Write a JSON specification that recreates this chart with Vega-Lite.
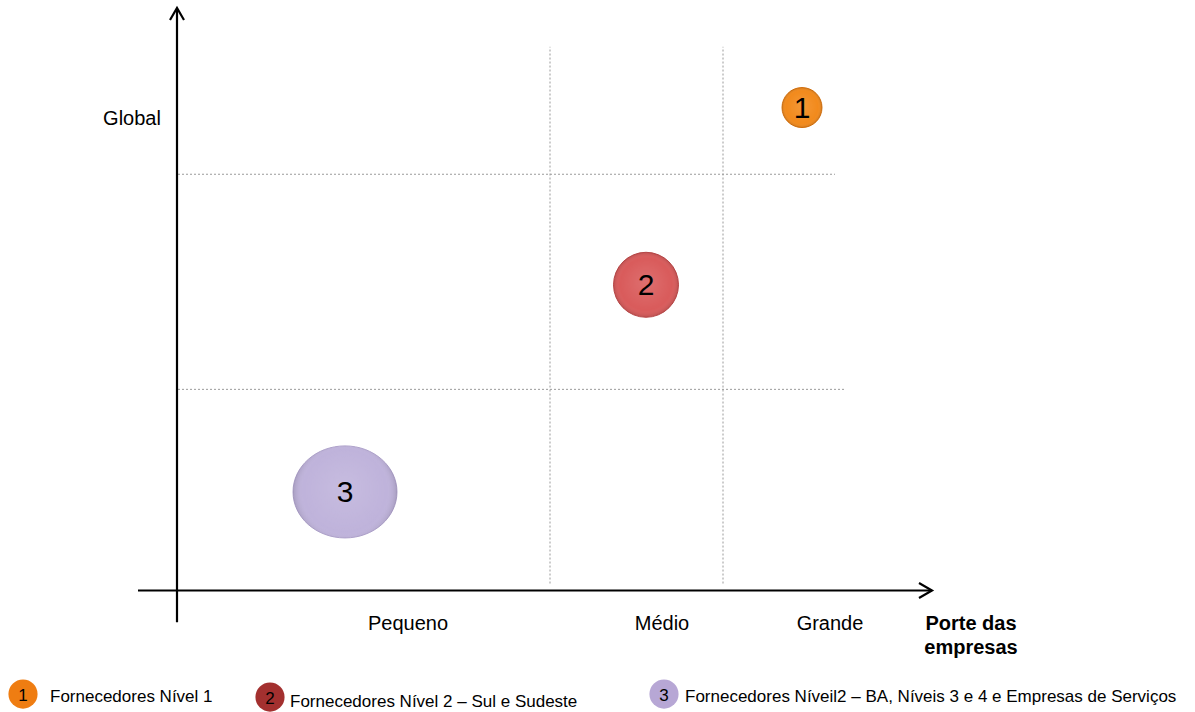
{
  "$schema": "https://vega.github.io/schema/vega-lite/v6.json",
  "width": 1195,
  "height": 712,
  "autosize": {"type": "fit", "contains": "padding"},
  "padding": 0,
  "background": "white",
  "config": {"view": {"stroke": null}, "font": "Liberation Sans"},
  "datasets": {
    "grid": [
      {"x": 37.3, "y": 0.7, "x2": 37.3, "y2": 54.6},
      {"x": 54.6, "y": 0.7, "x2": 54.6, "y2": 54.6},
      {"x": 0.1, "y": 41.8, "x2": 65.8, "y2": 41.8},
      {"x": 0.1, "y": 20.2, "x2": 66.8, "y2": 20.2}
    ],
    "axes": [
      {"x": 0, "y": -3.2, "x2": 0, "y2": 58.4},
      {"x": -3.9, "y": 0, "x2": 75.5, "y2": 0}
    ],
    "arrows": [
      {"x": 0, "y": 58.5, "dir": "up"},
      {"x": 75.5, "y": 0, "dir": "right"}
    ],
    "bubbles": [
      {"id": "1", "x": 62.5, "y": 48.5},
      {"id": "2", "x": 46.9, "y": 30.7},
      {"id": "3", "x": 16.8, "y": 9.9}
    ],
    "labels": [
      {"label": "Global", "x": -4.5, "y": 47.7},
      {"label": "Pequeno", "x": 23.1, "y": -3.1},
      {"label": "Médio", "x": 48.5, "y": -3.1},
      {"label": "Grande", "x": 65.3, "y": -3.1}
    ],
    "boldlabels": [
      {"label": "Porte das", "x": 79.4, "y": -3.0},
      {"label": "empresas", "x": 79.4, "y": -5.4}
    ],
    "legend": [
      {"id": "1", "x": -15.4, "y": -10.4, "tx": -12.7, "ty": -10.4, "label": "Fornecedores Nível 1"},
      {"id": "2", "x": 9.3, "y": -10.7, "tx": 11.3, "ty": -10.9, "label": "Fornecedores Nível 2 – Sul e Sudeste"},
      {"id": "3", "x": 48.7, "y": -10.4, "tx": 50.8, "ty": -10.4, "label": "Fornecedores Níveil2 – BA, Níveis 3 e 4 e Empresas de Serviços"}
    ]
  },
  "encoding": {
    "x": {"field": "x", "type": "quantitative", "scale": {"domain": [-17.7, 101.8], "nice": false, "zero": false}, "axis": null},
    "y": {"field": "y", "type": "quantitative", "scale": {"domain": [-11.9, 59.3], "nice": false, "zero": false}, "axis": null}
  },
  "layer": [
    {
      "data": {"name": "grid"},
      "mark": {"type": "rule", "color": "#9a9a9a", "strokeWidth": 1, "strokeDash": [2, 2]},
      "encoding": {"x2": {"field": "x2"}, "y2": {"field": "y2"}}
    },
    {
      "data": {"name": "axes"},
      "mark": {"type": "rule", "color": "#000000", "strokeWidth": 2.2},
      "encoding": {"x2": {"field": "x2"}, "y2": {"field": "y2"}}
    },
    {
      "data": {"name": "arrows"},
      "mark": {"type": "point", "filled": false, "stroke": "#000000", "strokeWidth": 2.2, "size": 400, "opacity": 1},
      "encoding": {
        "shape": {"field": "dir", "type": "nominal", "legend": null,
          "scale": {"domain": ["up", "right"], "range": ["M-0.7,1.2L0,0L0.7,1.2", "M-1.3,-0.75L0,0L-1.3,0.75"]}}
      }
    },
    {
      "data": {"name": "bubbles"},
      "mark": {"type": "point", "filled": true, "opacity": 1, "strokeWidth": 1},
      "encoding": {
        "color": {"field": "id", "type": "nominal", "legend": null,
          "scale": {"domain": ["1", "2", "3"], "range": ["#F28A1C", "#D95B5B", "#BFB3DB"]}},
        "stroke": {"field": "id", "type": "nominal", "legend": null,
          "scale": {"domain": ["1", "2", "3"], "range": ["#D8720E", "#BF4A4A", "#AFA2CC"]}},
        "size": {"field": "id", "type": "nominal", "legend": null,
          "scale": {"type": "ordinal", "domain": ["1", "2", "3"], "range": [1600, 4225, 10816]}},
        "shape": {"field": "id", "type": "nominal", "legend": null,
          "scale": {"domain": ["1", "2", "3"], "range": ["circle", "circle", "M-1,0A1,0.885,0,1,1,1,0A1,0.885,0,1,1,-1,0Z"]}}
      }
    },
    {
      "data": {"name": "bubbles"},
      "mark": {"type": "point", "filled": true, "opacity": 1,
        "fill": {"gradient": "radial", "x1": 0.5, "y1": 0.45, "r1": 0, "x2": 0.5, "y2": 0.5, "r2": 0.5,
          "stops": [
            {"offset": 0, "color": "rgba(255,255,255,0.12)"},
            {"offset": 0.8, "color": "rgba(255,255,255,0)"},
            {"offset": 1, "color": "rgba(0,0,0,0.12)"}
          ]}},
      "encoding": {
        "size": {"field": "id", "type": "nominal", "legend": null,
          "scale": {"type": "ordinal", "domain": ["1", "2", "3"], "range": [1600, 4225, 10816]}},
        "shape": {"field": "id", "type": "nominal", "legend": null,
          "scale": {"domain": ["1", "2", "3"], "range": ["circle", "circle", "M-1,0A1,0.885,0,1,1,1,0A1,0.885,0,1,1,-1,0Z"]}}
      }
    },
    {
      "data": {"name": "bubbles"},
      "mark": {"type": "text", "fontSize": 30, "color": "#000000", "baseline": "middle", "align": "center", "dy": 1},
      "encoding": {"text": {"field": "id"}}
    },
    {
      "data": {"name": "labels"},
      "mark": {"type": "text", "fontSize": 20, "color": "#000000", "baseline": "middle", "align": "center", "dy": 3},
      "encoding": {"text": {"field": "label"}}
    },
    {
      "data": {"name": "boldlabels"},
      "mark": {"type": "text", "fontSize": 20, "fontWeight": "bold", "color": "#000000", "baseline": "middle", "align": "center", "dy": 4},
      "encoding": {"text": {"field": "label"}}
    },
    {
      "data": {"name": "legend"},
      "mark": {"type": "point", "filled": true, "opacity": 1, "size": 850},
      "encoding": {
        "color": {"field": "id", "type": "nominal", "legend": null,
          "scale": {"domain": ["1", "2", "3"], "range": ["#EF7D12", "#A3302F", "#B7A7D5"]}}
      }
    },
    {
      "data": {"name": "legend"},
      "mark": {"type": "text", "fontSize": 17, "color": "#000000", "baseline": "middle", "align": "center", "dy": 2},
      "encoding": {"text": {"field": "id"}}
    },
    {
      "data": {"name": "legend"},
      "mark": {"type": "text", "fontSize": 17, "color": "#000000", "baseline": "middle", "align": "left", "dy": 3},
      "encoding": {
        "x": {"field": "tx", "type": "quantitative"},
        "y": {"field": "ty", "type": "quantitative"},
        "text": {"field": "label"}
      }
    }
  ],
  "resolve": {"scale": {"color": "independent", "shape": "independent", "size": "independent"}}
}
